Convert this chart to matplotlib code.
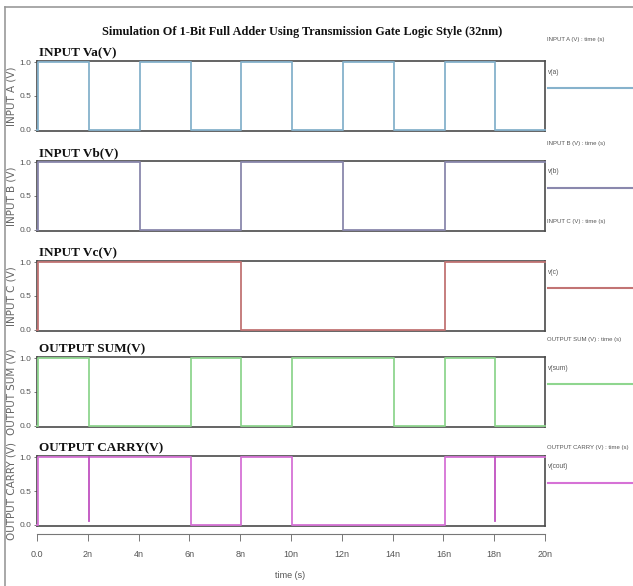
import matplotlib
matplotlib.use("Agg")
import matplotlib.pyplot as plt
from matplotlib.lines import Line2D

# switching instants (ns) and the logic level held from each instant on
t_ns = [0.0, 0.05, 2.05, 4.05, 6.05, 8.05, 10.05, 12.05, 14.05, 16.05, 18.05, 20.0]
va = [0, 1, 0, 1, 0, 1, 0, 1, 0, 1, 0, 0]
vb = [0, 1, 1, 0, 0, 1, 1, 0, 0, 1, 1, 1]
vc = [0, 1, 1, 1, 1, 0, 0, 0, 0, 1, 1, 1]
vsum = [0, 1, 0, 0, 1, 0, 1, 1, 0, 1, 0, 0]
vcout = [0, 1, 1, 1, 0, 1, 0, 0, 0, 1, 1, 1]

# short dips on the carry output
glitch_t_ns = [2.05, 18.05]
glitch_level = [0.06, 0.06]

titles = ["INPUT Va(V)", "INPUT Vb(V)", "INPUT Vc(V)", "OUTPUT SUM(V)", "OUTPUT CARRY(V)"]
ylabels = ["INPUT A (V)", "INPUT B (V)", "INPUT C (V)", "OUTPUT SUM (V)", "OUTPUT CARRY (V)"]
legend_heads = ["INPUT A (V) : time (s)", "INPUT B (V) : time (s)", "INPUT C (V) : time (s)",
                "OUTPUT SUM (V) : time (s)", "OUTPUT CARRY (V) : time (s)"]
legend_names = ["v(a)", "v(b)", "v(c)", "v(sum)", "v(cout)"]
colors = ["#86b2cc", "#8a88ad", "#c27474", "#8fd68f", "#d672d6"]
signals = [va, vb, vc, vsum, vcout]

xticks = [0, 2, 4, 6, 8, 10, 12, 14, 16, 18, 20]
xticklabels = ["0.0"] + ["%dn" % v for v in xticks[1:]]

W, H = 633, 586
fig = plt.figure(figsize=(W / 100, H / 100), dpi=100)

sans = ["Liberation Sans", "DejaVu Sans"]
serif = ["Liberation Serif", "DejaVu Serif"]
frame_c = "#4a4a4a"

tops = [61, 161, 261, 357, 456]
h_px = 70
left_px, right_px = 37, 545

for i in range(5):
    ax = fig.add_axes([left_px / W, 1 - (tops[i] + h_px) / H,
                       (right_px - left_px) / W, h_px / H])
    ax.step(t_ns, signals[i], where="post", color=colors[i], lw=1.3,
            zorder=3, clip_on=False)
    if i == 4:
        for gt, gl in zip(glitch_t_ns, glitch_level):
            ax.plot([gt, gt], [1, gl], color="#c050c0", lw=1.3, zorder=3)
    ax.set_xlim(0, 20)
    ax.set_ylim(-0.015, 1.015)
    for s in ax.spines.values():
        s.set_color(frame_c)
        s.set_linewidth(1.2)
    ax.set_yticks([0.0, 0.5, 1.0])
    ax.set_yticklabels(["0.0", "0.5", "1.0"], fontsize=6, color="#555",
                       family=sans)
    ax.tick_params(axis="y", length=2.5, width=0.6, color="#666", pad=1.5)
    if i < 4:
        ax.set_xticks([])
    else:
        ax.spines["bottom"].set_position(("outward", 6))
        ax.spines["bottom"].set_color("#777")
        ax.spines["bottom"].set_linewidth(0.8)
        ax.axhline(-0.015, color=frame_c, lw=1.2, zorder=2.6, clip_on=False)
        ax.set_xticks(xticks)
        ax.set_xticklabels(xticklabels, fontsize=6.5, color="#555", family=sans)
        ax.tick_params(axis="x", length=5, width=0.7, color="#777", pad=6)
    ax.text(0.004, 1.03, titles[i], transform=ax.transAxes, fontsize=9.5,
            fontweight="bold", family=serif, color="#111", va="bottom", ha="left")
    # y label per panel, rotated on the far left
    fig.text(12 / W, 1 - (tops[i] + h_px / 2) / H, ylabels[i], rotation=90,
             fontsize=7.5, color="#666", ha="center", va="center")
    # legend block on the right
    head_y = [39, 143, 222, 340, 448][i]
    fig.text(547 / W, 1 - head_y / H, legend_heads[i], fontsize=4.3,
             color="#555", family=sans, va="center", ha="left")
    fig.text(548 / W, 1 - (tops[i] + 11) / H, legend_names[i], fontsize=4.8,
             color="#555", family=sans, va="center", ha="left")
    ly = 1 - (tops[i] + 27) / H
    fig.add_artist(Line2D([548 / W, 1.0], [ly, ly], color=colors[i], lw=1.5))

fig.text(302 / W, 1 - 32 / H,
         "Simulation Of 1-Bit Full Adder Using Transmission Gate Logic Style (32nm)",
         fontsize=8.8, fontweight="bold", family=serif, color="#111",
         ha="center", va="center")
fig.text(290 / W, 1 - 575 / H, "time (s)", fontsize=6.5, color="#555",
         family=sans, ha="center", va="center")

# screenshot border
fig.add_artist(Line2D([5 / W, 1.0], [1 - 7 / H, 1 - 7 / H], color="#999", lw=1.2))
fig.add_artist(Line2D([5 / W, 5 / W], [0, 1 - 7 / H], color="#999", lw=1.2))

fig.savefig("out.png", dpi=100)
